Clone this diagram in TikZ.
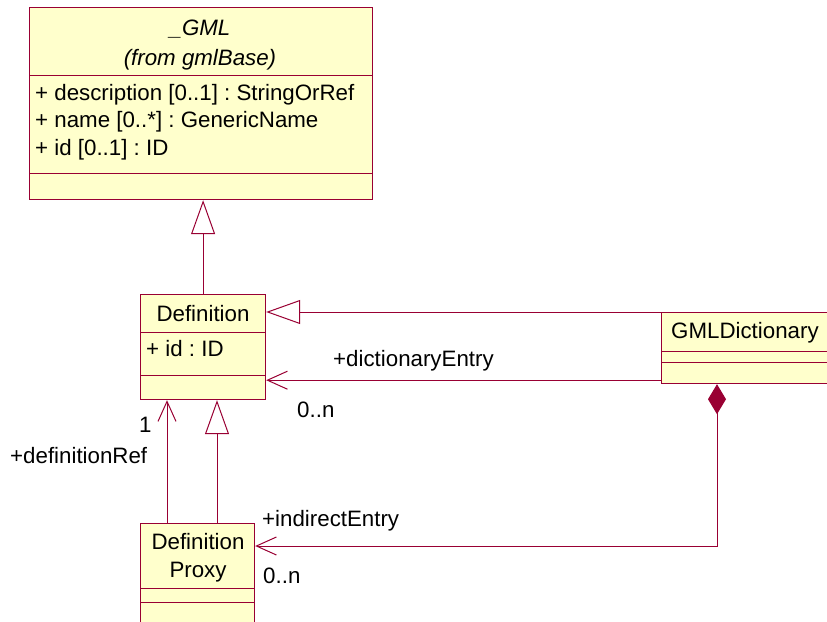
\documentclass[tikz,border=0pt]{standalone}
\usepackage{fontspec}
\setmainfont{Liberation Sans}
\usetikzlibrary{arrows.meta}
\definecolor{umlline}{HTML}{990033}
\definecolor{umlfill}{HTML}{FFFFCC}
\frenchspacing
\begin{document}
\begin{tikzpicture}[x=1pt,y=-1pt,
  cls/.style={draw=umlline,fill=umlfill,line width=1.2pt,anchor=north west,inner sep=0pt,rectangle},
  sep/.style={draw=umlline,line width=1pt},
  txt/.style={inner sep=0pt,font=\fontsize{22.3}{26}\selectfont},
  gen/.style={draw=umlline,line width=1pt,-{Triangle[open,length=34pt,width=24pt,fill=white]}},
  assoc/.style={draw=umlline,line width=1pt,-{Straight Barb[length=20pt,width=18pt]}},
  comp/.style={draw=umlline,line width=1pt,{Diamond[length=30pt,width=18pt,fill=umlline]}-{Straight Barb[length=20pt,width=18pt]}}]
\useasboundingbox (0,0) rectangle (827,621);
\clip (0,0) rectangle (827,621);
% classes
\node[cls,minimum width=343pt,minimum height=192pt] (gml) at (29,7) {};
\node[cls,minimum width=125pt,minimum height=105pt] (def) at (140,294) {};
\node[cls,minimum width=190pt,minimum height=71pt] (dict) at (661,312) {};
\node[cls,minimum width=114pt,minimum height=130pt] (proxy) at (140,523) {};
% compartments
\draw[sep] ([yshift=-68pt]gml.north west) -- ([yshift=-68pt]gml.north east);
\draw[sep] ([yshift=-166pt]gml.north west) -- ([yshift=-166pt]gml.north east);
\draw[sep] ([yshift=-38pt]def.north west) -- ([yshift=-38pt]def.north east);
\draw[sep] ([yshift=-81pt]def.north west) -- ([yshift=-81pt]def.north east);
\draw[sep] ([yshift=-39pt]dict.north west) -- ([yshift=-39pt]dict.north east);
\draw[sep] ([yshift=-50pt]dict.north west) -- ([yshift=-50pt]dict.north east);
\draw[sep] ([yshift=-65pt]proxy.north west) -- ([yshift=-65pt]proxy.north east);
\draw[sep] ([yshift=-79pt]proxy.north west) -- ([yshift=-79pt]proxy.north east);
% class texts
\node[txt,anchor=base] (t1) at (200,35) {\itshape \_GML};
\node[txt,anchor=base] (t2) at (200,65) {\itshape (from gmlBase)};
\node[txt,anchor=base west] (a1) at (35,100) {+ description [0..1] : StringOrRef};
\node[txt,anchor=base west] (a2) at (35,127.5) {+ name [0..*] : GenericName};
\node[txt,anchor=base west] (a3) at (35,155) {+ id [0..1] : ID};
\node[txt,anchor=base] (t3) at (203,321) {Definition};
\node[txt,anchor=base west] (a4) at (146,356) {+ id : ID};
\node[txt,anchor=base west] (t4) at (671,338) {GMLDictionary};
\node[txt,anchor=base] (t5) at (198,549) {Definition};
\node[txt,anchor=base] (t6) at (198,577) {Proxy};
% connectors
\draw[gen] (def.north) -- (def.north |- gml.south);
\draw[gen] (dict.north west) -- (dict.north west -| def.east);
\coordinate (de) at ([yshift=4pt]dict.south west);
\draw[assoc] (de) -- (de -| def.east);
\coordinate (pr) at ([xshift=27pt]proxy.north west);
\draw[assoc] (pr) -- (pr |- def.south);
\coordinate (pg) at ([xshift=77pt]proxy.north west);
\draw[gen] (pg) -- (pg |- def.south);
\coordinate (dd) at ([xshift=56pt]dict.south west);
\coordinate (ie) at ([yshift=-23pt]proxy.north east);
\draw[comp] (dd) |- (ie);
% labels
\node[txt,anchor=base west] (l1) at (333,366) {+dictionaryEntry};
\node[txt,anchor=base west] (l2) at (297,417) {0..n};
\node[txt,anchor=base west] (l3) at (139,432) {1};
\node[txt,anchor=base west] (l4) at (10,463) {+definitionRef};
\node[txt,anchor=base west] (l5) at (262,526) {+indirectEntry};
\node[txt,anchor=base west] (l6) at (263,583) {0..n};
\end{tikzpicture}
\end{document}
